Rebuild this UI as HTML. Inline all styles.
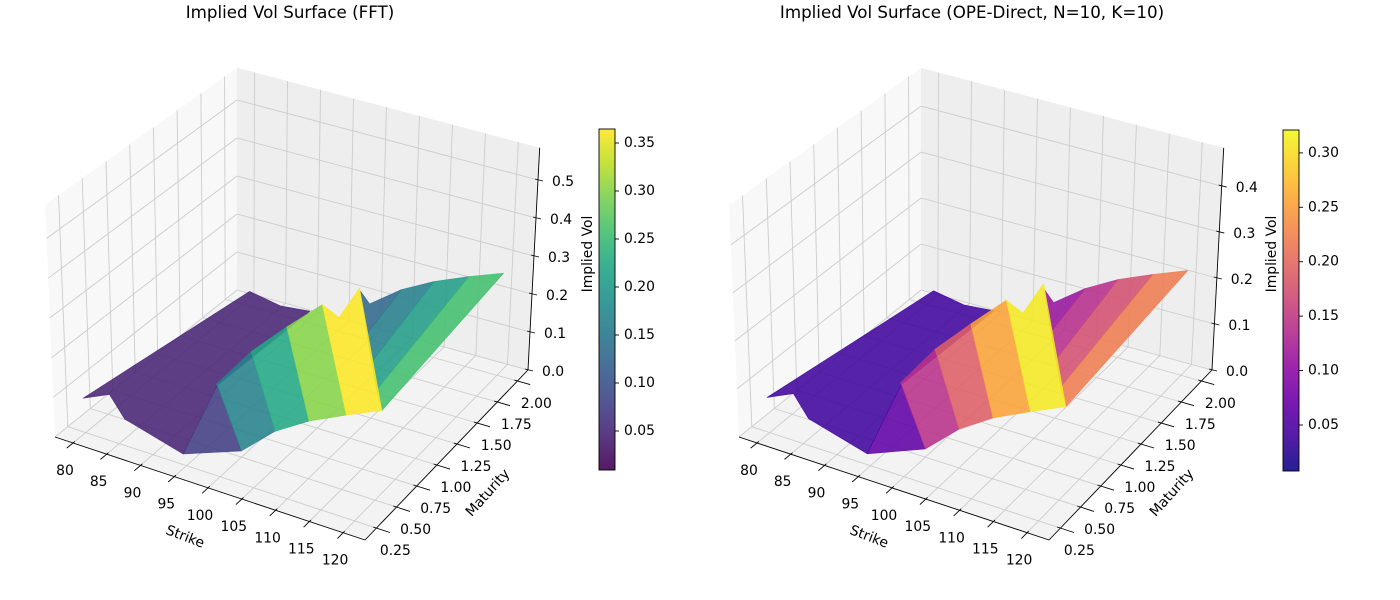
<!DOCTYPE html>
<html><head><meta charset="utf-8"><title>Implied Vol Surfaces</title>
<style>
html,body{margin:0;padding:0;background:#fff;}
svg{display:block;font-family:"DejaVu Sans","Liberation Sans",sans-serif;}
</style></head>
<body>
<svg id="fig" xmlns="http://www.w3.org/2000/svg" width="1400" height="600" viewBox="0 0 1400 600">
<rect x="0" y="0" width="1400" height="600" fill="#ffffff"/>
<text x="290" y="18" text-anchor="middle" font-size="16.7" fill="#000">Implied Vol Surface (FFT)</text>
<text x="972" y="18" text-anchor="middle" font-size="16.7" fill="#000">Implied Vol Surface (OPE-Direct, N=10, K=10)</text>
<g id="left"></g>
<g id="right"></g>
</svg>
<script>
// ---- data (surface vertices: strike, maturity, implied vol) ----
const strikes=[77.9,80.2,84.5,94.2,82.3,87.4,91.1,90.8,94.1,97.3,101.1,108.1,112.0,111.6,98.4,101.2,103.6,108.4,113.4,119.0,106.2,112.6,118.8,106.4,110.1,114.9,121.9,125.7];
const maturities=[0.387,0.508,0.353,0.276,1.919,1.899,1.967,0.932,0.674,0.828,0.946,0.815,0.703,0.971,2.002,1.900,2.088,2.105,2.135,2.109,1.490,1.047,0.610,0.003,0.104,0.120,-0.005,0.108];
const fftVols=[0.05,0.05,0.04,0.02,0.06,0.05,0.04,0.05,0.12,0.19,0.25,0.37,0.38,0.40,0.12,0.12,0.13,0.17,0.20,0.24,0.15,0.20,0.25,0.15,0.20,0.25,0.33,0.34];
const opeVols=[0.043,0.043,0.034,0.017,0.051,0.043,0.034,0.043,0.102,0.162,0.213,0.315,0.323,0.34,0.102,0.102,0.11,0.145,0.17,0.204,0.128,0.17,0.213,0.128,0.17,0.213,0.28,0.289];
const facets=[[0,4,5,6,7,3,2,1],[14,15,16,20],[16,17,21,20],[17,18,22,21],[18,19,27,22],[3,7,23],[8,9,24,23],[9,10,25,24],[10,11,26,25],[11,12,13,27,26]];
const strikeTicks=[80,85,90,95,100,105,110,115,120];
const maturityTicks=[0.25,0.5,0.75,1.0,1.25,1.5,1.75,2.0];
const maturityLabels=["0.25","0.50","0.75","1.00","1.25","1.50","1.75","2.00"];
const fftZTicks=[0,0.1,0.2,0.3,0.4,0.5];
const opeZTicks=[0,0.1,0.2,0.3,0.4];
const fftCbarTicks=[0.05,0.10,0.15,0.20,0.25,0.30,0.35];
const opeCbarTicks=[0.05,0.10,0.15,0.20,0.25,0.30];

const viridis=["#440154","#482475","#414487","#355f8d","#2a788e","#21918c","#22a884","#44bf70","#7ad151","#bddf26","#fde725"];
const plasma=["#0d0887","#41049d","#6a00a8","#8f0da4","#b12a90","#cc4778","#e16462","#f2844b","#fca636","#fcce25","#f0f921"];

const NS="http://www.w3.org/2000/svg";
const Kmin=77.34,Kmax=123.24,Tmin=0.108,Tmax=2.131;

function hex2rgb(h){return [parseInt(h.substr(1,2),16),parseInt(h.substr(3,2),16),parseInt(h.substr(5,2),16)];}
function cmap(stops,t){t=Math.max(0,Math.min(1,t));const p=t*(stops.length-1);const i=Math.min(stops.length-2,Math.floor(p));const f=p-i;const a=hex2rgb(stops[i]),b=hex2rgb(stops[i+1]);
 return "rgb("+[0,1,2].map(j=>Math.round(a[j]+(b[j]-a[j])*f)).join(",")+")";}

function makeProj(dx,zs){
 return function(K,T,z){
  const k=(K-Kmin)/(Kmax-Kmin), t=(T-Tmin)/(Tmax-Tmin);
  const A=[55,437],B=[365,540],C=[528,370],D=[237,290];
  const fx=A[0]*(1-k)*(1-t)+B[0]*k*(1-t)+C[0]*k*t+D[0]*(1-k)*t;
  const fy=A[1]*(1-k)*(1-t)+B[1]*k*(1-t)+C[1]*k*t+D[1]*(1-k)*t;
  const ezx=-17*(1-k)*(1-t)+20*k*t;
  const ezy=-(397*(1-t)+380*t);
  return [fx+ezx*z*zs+dx, fy+ezy*z*zs];
 };
}
function el(tag,attrs,parent){const e=document.createElementNS(NS,tag);for(const a in attrs)e.setAttribute(a,attrs[a]);parent.appendChild(e);return e;}
function pts(arr){return arr.map(p=>p[0].toFixed(1)+","+p[1].toFixed(1)).join(" ");}

function drawChart(g,opt){
 const P=makeProj(opt.dx,opt.zs), zmax=opt.zmax;
 const floor=el("polygon",{points:pts([P(Kmin,Tmin,0),P(Kmax,Tmin,0),P(Kmax,Tmax,0),P(Kmin,Tmax,0)]),fill:"#f3f3f3"},g);
 
 
 const lw=el("polygon",{points:pts([P(Kmin,Tmin,0),P(Kmin,Tmax,0),P(Kmin,Tmax,zmax),P(Kmin,Tmin,zmax)]),fill:"#f8f8f8"},g);
 
 
 const bw=el("polygon",{points:pts([P(Kmin,Tmax,0),P(Kmax,Tmax,0),P(Kmax,Tmax,zmax),P(Kmin,Tmax,zmax)]),fill:"#eeeeee"},g);
 
 
 const gl=el("g",{stroke:"#cccccc","stroke-width":"0.9",fill:"none"},g);
 
 
 function line(a,b,parent,name,stroke){const l=el("line",{x1:a[0].toFixed(1),y1:a[1].toFixed(1),x2:b[0].toFixed(1),y2:b[1].toFixed(1)},parent);
  if(stroke){l.setAttribute("stroke",stroke);l.setAttribute("stroke-width","0.9");}
  
  
  return l;}
 strikeTicks.forEach(K=>{line(P(K,Tmin,0),P(K,Tmax,0),gl,'floor-grid-strike');line(P(K,Tmax,0),P(K,Tmax,zmax),gl,'back-grid-strike');});
 maturityTicks.forEach(T=>{line(P(Kmin,T,0),P(Kmax,T,0),gl,'floor-grid-maturity');line(P(Kmin,T,0),P(Kmin,T,zmax),gl,'wall-grid-maturity');});
 opt.zTicks.forEach(z=>{line(P(Kmin,Tmin,z),P(Kmin,Tmax,z),gl,'wall-grid-z');line(P(Kmin,Tmax,z),P(Kmax,Tmax,z),gl,'back-grid-z');});
 const sg=el("g",{},g);
 
 
 const vols=opt.vols;
 facets.forEach((f,i)=>{
  const avg=f.reduce((s,j)=>s+vols[j],0)/f.length;
  const col=cmap(opt.cmap,(avg-opt.vmin)/(opt.vmax-opt.vmin));
  const poly=el("polygon",{points:pts(f.map(j=>P(strikes[j],maturities[j],vols[j]))),fill:col,"fill-opacity":"0.88",stroke:col,"stroke-opacity":"0.88","stroke-width":"0.6","stroke-linejoin":"round"},sg);
  
  
 });
 const ax=el("g",{stroke:"#000","stroke-width":"0.9"},g);
 
 
 line(P(Kmin,Tmin,0),P(Kmax,Tmin,0),ax,'strike-axis-line');
 line(P(Kmax,Tmin,0),P(Kmax,Tmax,0),ax,'maturity-axis-line');
 line(P(Kmax,Tmax,0),P(Kmax,Tmax,zmax),ax,'z-axis-line');
 const tg=el("g",{"font-size":"13.9",fill:"#000"},g);
 
 
 function txt(x,y,s,anchor,name,parent,extra){const t=el("text",{x:x.toFixed(1),y:y.toFixed(1),"text-anchor":anchor,"dominant-baseline":"central"},parent||tg);
  if(extra)for(const a in extra)t.setAttribute(a,extra[a]);
  t.textContent=s;
  
  
  return t;}
 strikeTicks.forEach(K=>{const p=P(K,Tmin,0);line(P(K,Tmin+0.02,0),P(K,Tmin-0.07,0),ax,'strike-tick');txt(p[0]-8,p[1]+28,String(K),"middle",'strike-tick-label');});
 maturityTicks.forEach((T,i)=>{const p=P(Kmax,T,0);line(P(Kmax-0.5,T,0),P(Kmax+2,T,0),ax,'maturity-tick');txt(p[0]+19,p[1]+23,maturityLabels[i],"middle",'maturity-tick-label');});
 opt.zTicks.forEach(z=>{const p=P(Kmax,Tmax,z);line([p[0]-3,p[1]-1],[p[0]+5,p[1]+1],ax,'z-tick');txt(p[0]+14,p[1]+2,z.toFixed(1),"start",'z-tick-label');});
 txt(185+opt.dx,537,"Strike","middle",'strike-axis-title',g,{"font-size":"13.9",transform:"rotate(21 "+(185+opt.dx)+" 537)"});
 txt(488+opt.dx,493,"Maturity","middle",'maturity-axis-title',g,{"font-size":"13.9",transform:"rotate(-48 "+(488+opt.dx)+" 493)"});
 const cb=el("g",{},g);
 
 
 const gid="grad"+opt.dx;
 const defs=el("defs",{},cb);
 const lg=el("linearGradient",{id:gid,x1:"0",y1:"1",x2:"0",y2:"0"},defs);
 opt.cmap.forEach((c,i)=>{el("stop",{offset:(i/(opt.cmap.length-1)).toFixed(2),"stop-color":c},lg);});
 const cx=opt.cbx, cy0=opt.cby0, cy1=opt.cby1;
 const bar=el("rect",{x:cx,y:cy0,width:16,height:cy1-cy0,fill:"url(#"+gid+")","fill-opacity":"0.9",stroke:"#000","stroke-width":"0.9"},cb);
 
 
 opt.cbTicks.forEach(v=>{const y=cy1-(v-opt.vmin)/(opt.vmax-opt.vmin)*(cy1-cy0);
  line([cx+16,y],[cx+20,y],cb,'colorbar-tick',"#000");
  txt(cx+25,y,v.toFixed(2),"start",'colorbar-tick-label',cb,{"font-size":"13.9"});});
 txt(opt.cbx-11,254,"Implied Vol","middle",'colorbar-title',cb,{"font-size":"13.9",transform:"rotate(-90 "+(opt.cbx-11)+" 254)"});
}

drawChart(document.getElementById("left"),{dx:0,zs:1,zmax:0.585,vols:fftVols,cmap:viridis,vmin:0.0094,vmax:0.3646,zTicks:fftZTicks,cbTicks:fftCbarTicks,cbx:599,cby0:129,cby1:470});
drawChart(document.getElementById("right"),{dx:684,zs:1.21,zmax:0.483,vols:opeVols,cmap:plasma,vmin:0.0077,vmax:0.321,zTicks:opeZTicks,cbTicks:opeCbarTicks,cbx:1283,cby0:130,cby1:471});
</script>
</body></html>
